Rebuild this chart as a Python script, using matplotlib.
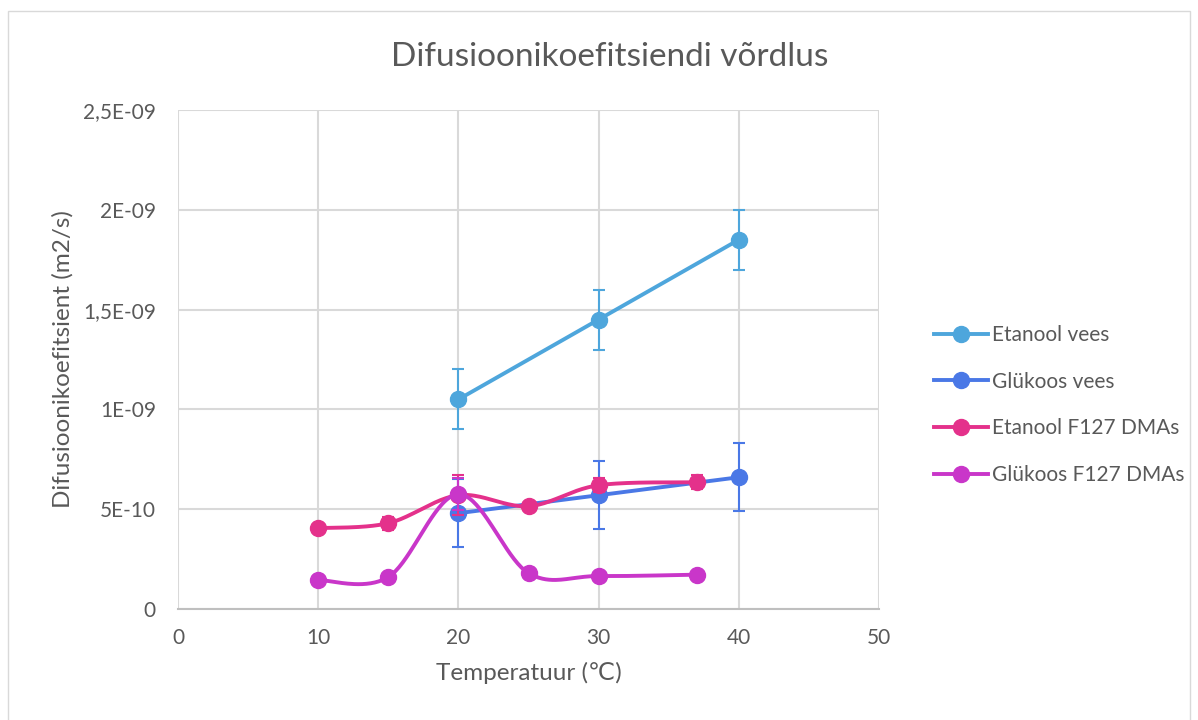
import numpy as np
import matplotlib.pyplot as plt
from matplotlib.lines import Line2D
from matplotlib.patches import Rectangle

plt.rcParams['font.family'] = ['Lato', 'DejaVu Sans']

# data
etanool_vees_x = [20, 30, 40]
etanool_vees_y = [1.05e-9, 1.45e-9, 1.85e-9]
etanool_vees_err = [1.5e-10, 1.5e-10, 1.5e-10]

glukoos_vees_x = [20, 30, 40]
glukoos_vees_y = [4.8e-10, 5.7e-10, 6.6e-10]
glukoos_vees_err = [1.7e-10, 1.7e-10, 1.7e-10]

etanool_f127_x = [10, 15, 20, 25, 30, 37]
etanool_f127_y = [4.05e-10, 4.3e-10, 5.7e-10, 5.15e-10, 6.2e-10, 6.35e-10]
etanool_f127_err = [1.5e-11, 3.2e-11, 1.0e-10, 2.3e-11, 3.5e-11, 3.5e-11]

glukoos_f127_x = [10, 15, 20, 25, 30, 37]
glukoos_f127_y = [1.45e-10, 1.6e-10, 5.75e-10, 1.8e-10, 1.65e-10, 1.72e-10]
glukoos_f127_err = [1.9e-11, 1.0e-11, 8.0e-11, 2.3e-11, 5e-12, 5e-12]

y_ticks = [0, 5e-10, 1e-9, 1.5e-9, 2e-9, 2.5e-9]
y_tick_labels = ['0', '5E-10', '1E-09', '1,5E-09', '2E-09', '2,5E-09']
x_ticks = [0, 10, 20, 30, 40, 50]

text_col = '#595959'
grid_col = '#d9d9d9'


def smooth(xs, ys, sx=14.02, sy=199.6 / 5e-10, n=40):
    # Excel-like smoothed line (Catmull-Rom as Bezier), done in pixel-ish space
    p = np.column_stack([np.array(xs) * sx, np.array(ys) * sy])
    pts = np.vstack([p[0], p, p[-1]])
    out = []
    t = np.linspace(0, 1, n)[:, None]
    for i in range(1, len(pts) - 2):
        p0, p1, p2, p3 = pts[i - 1], pts[i], pts[i + 1], pts[i + 2]
        c1 = p1 + (p2 - p0) / 6
        c2 = p2 - (p3 - p1) / 6
        seg = ((1 - t) ** 3) * p1 + 3 * ((1 - t) ** 2) * t * c1 + 3 * (1 - t) * t ** 2 * c2 + t ** 3 * p2
        out.append(seg)
    out = np.vstack(out)
    return out[:, 0] / sx, out[:, 1] / sy


fig = plt.figure(figsize=(11.98, 7.2), dpi=100)
fig.patches.append(Rectangle((8 / 1198, -0.01), 1182 / 1198, 1 - 11 / 720 + 0.01,
                             transform=fig.transFigure, fill=False, edgecolor='#d9d9d9', lw=1))
ax = fig.add_axes([178 / 1198, 111 / 720, 701 / 1198, 499 / 720])

series = [
    (etanool_vees_x, etanool_vees_y, etanool_vees_err, '#4ea6dc', 'Etanool vees', False),
    (glukoos_vees_x, glukoos_vees_y, glukoos_vees_err, '#4a78e6', 'Glükoos vees', False),
    (etanool_f127_x, etanool_f127_y, etanool_f127_err, '#e4318b', 'Etanool F127 DMAs', True),
    (glukoos_f127_x, glukoos_f127_y, glukoos_f127_err, '#c936c9', 'Glükoos F127 DMAs', True),
]

handles = []
for i, (xs, ys, err, col, lab, sm) in enumerate(series):
    z = 3 + i
    ax.errorbar(xs, ys, yerr=err, fmt='none', ecolor=col, elinewidth=1.5,
                capsize=4.5, capthick=1.5, zorder=z)
    if sm:
        lx, ly = smooth(xs, ys)
    else:
        lx, ly = xs, ys
    ax.plot(lx, ly, color=col, lw=2.8, zorder=z, solid_capstyle='round')
    ax.plot(xs, ys, 'o', color=col, markersize=11.5, zorder=z)
    handles.append(Line2D([0], [0], color=col, lw=2.8, marker='o', markersize=11.5, label=lab))

ax.set_xlim(0, 50)
ax.set_ylim(0, 2.5e-9)
ax.set_xticks(x_ticks)
ax.set_yticks(y_ticks)
ax.set_yticklabels(y_tick_labels)
ax.grid(True, color=grid_col, lw=1.5)
ax.set_axisbelow(True)
for s in ['top', 'right', 'left']:
    ax.spines[s].set_visible(False)
ax.spines['bottom'].set_color('#bfbfbf')
ax.spines['bottom'].set_linewidth(1.5)
ax.tick_params(length=0, labelsize=15, labelcolor=text_col)
ax.tick_params(axis='y', pad=16)
ax.tick_params(axis='x', pad=14)

ax.set_xlabel('Temperatuur (℃)', fontsize=17.5, color=text_col, labelpad=10)
ax.set_ylabel('Difusioonikoefitsient (m2/s)', fontsize=17.5, color=text_col, labelpad=7)
fig.text(610 / 1198, 1 - 57 / 720, 'Difusioonikoefitsiendi võrdlus', fontsize=24,
         color=text_col, ha='center', va='center')

fig.legend(handles=handles, loc='center left', bbox_to_anchor=(915 / 1198, 1 - 405 / 720),
           frameon=False, fontsize=15, labelcolor=text_col, handlelength=2.6,
           labelspacing=1.28, handletextpad=0.2)

fig.savefig('out.png', dpi=100)
